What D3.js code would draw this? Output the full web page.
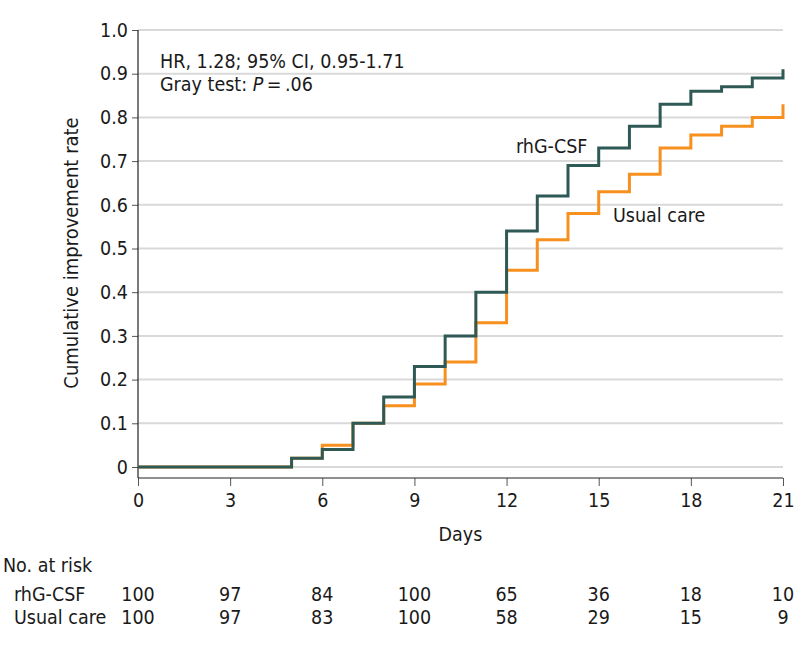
<!DOCTYPE html>
<html>
<head>
<meta charset="utf-8">
<script src="https://cdn.jsdelivr.net/npm/d3@7"></script>
<style>
  body { margin: 0; background: #fff; }
  svg text { font-family: "DejaVu Sans Condensed", "DejaVu Sans", sans-serif; fill: #1a1a1a; }
</style>
</head>
<body>
<div id="main"></div>
<script>
// data
const days = [0, 5, 6, 7, 8, 9, 10, 11, 12, 13, 14, 15, 16, 17, 18, 19, 20, 21];
const rhgCsf = [0, 0.02, 0.04, 0.10, 0.16, 0.23, 0.30, 0.40, 0.54, 0.62, 0.69, 0.73, 0.78, 0.83, 0.86, 0.87, 0.89, 0.91];
const usualCare = [0, 0.02, 0.05, 0.10, 0.14, 0.19, 0.24, 0.33, 0.45, 0.52, 0.58, 0.63, 0.67, 0.73, 0.76, 0.78, 0.80, 0.83];
const xTicks = [0, 3, 6, 9, 12, 15, 18, 21];
const yTicks = [0, 0.1, 0.2, 0.3, 0.4, 0.5, 0.6, 0.7, 0.8, 0.9, 1.0];
const riskRhg = [100, 97, 84, 100, 65, 36, 18, 10];
const riskUsual = [100, 97, 83, 100, 58, 29, 15, 9];

const chartWidth = 798, chartHeight = 647;
const plotLeft = 138, plotRight = 783, plotTop = 30, zeroY = 467, axisY = 478;
const teal = '#2e5955', orange = '#f7901e';
const fs = 19.5;

const svg = d3.select('#main').append('svg')
  .attr('width', chartWidth)
  .attr('height', chartHeight);

const x = d3.scaleLinear().domain([0, 21]).range([plotLeft, plotRight]);
const y = d3.scaleLinear().domain([0, 1]).range([zeroY, plotTop]);

// gridlines
svg.append('g')
  .selectAll('line')
  .data(yTicks)
  .join('line')
    .attr('x1', plotLeft).attr('x2', plotRight)
    .attr('y1', d => y(d)).attr('y2', d => y(d))
    .attr('stroke', '#d9d9d9')
    .attr('stroke-width', 2);

// y axis
const yAxis = svg.append('g')
  .attr('transform', `translate(${plotLeft},0)`)
  .call(d3.axisLeft(y).tickValues(yTicks).tickSize(6).tickPadding(4)
    .tickFormat(d => d === 0 ? '0' : d3.format('.1f')(d)));
yAxis.select('.domain').remove();
yAxis.selectAll('line').attr('stroke', '#555');
yAxis.selectAll('text').attr('font-size', fs).attr('fill', '#1a1a1a');
svg.append('line')
  .attr('x1', plotLeft).attr('x2', plotLeft)
  .attr('y1', plotTop).attr('y2', axisY)
  .attr('stroke', '#222').attr('stroke-width', 1.2);

// x axis
const xAxis = svg.append('g')
  .attr('transform', `translate(0,${axisY})`)
  .call(d3.axisBottom(x).tickValues(xTicks).tickSize(8).tickPadding(7));
xAxis.select('.domain').remove();
xAxis.selectAll('line').attr('stroke', '#555');
xAxis.selectAll('text').attr('font-size', fs).attr('fill', '#1a1a1a');
svg.append('line')
  .attr('x1', plotLeft).attr('x2', plotRight)
  .attr('y1', axisY).attr('y2', axisY)
  .attr('stroke', '#222').attr('stroke-width', 1.2);

// step curves
const line = d3.line()
  .x(d => x(d[0]))
  .y(d => y(d[1]))
  .curve(d3.curveStepAfter);

svg.append('path')
  .datum(days.map((d, i) => [d, usualCare[i]]))
  .attr('d', line)
  .attr('fill', 'none')
  .attr('stroke', orange)
  .attr('stroke-width', 3);

svg.append('path')
  .datum(days.map((d, i) => [d, rhgCsf[i]]))
  .attr('d', line)
  .attr('fill', 'none')
  .attr('stroke', teal)
  .attr('stroke-width', 3);

// labels
svg.append('text')
  .attr('transform', 'translate(78,253) rotate(-90)')
  .attr('text-anchor', 'middle')
  .attr('font-size', 20)
  .text('Cumulative improvement rate');

svg.append('text')
  .attr('x', (plotLeft + plotRight) / 2).attr('y', 541)
  .attr('text-anchor', 'middle')
  .attr('font-size', fs)
  .text('Days');

svg.append('text')
  .attr('x', 160).attr('y', 68)
  .attr('font-size', fs)
  .text('HR, 1.28; 95% CI, 0.95-1.71');

const gray = svg.append('text')
  .attr('x', 160).attr('y', 91)
  .attr('font-size', fs);
gray.append('tspan').text('Gray test: ');
gray.append('tspan').attr('font-style', 'italic').text('P');
gray.append('tspan').text('\u2009=\u2009.06');

svg.append('text')
  .attr('x', 516).attr('y', 153)
  .attr('font-size', fs)
  .text('rhG-CSF');

svg.append('text')
  .attr('x', 613).attr('y', 222)
  .attr('font-size', fs)
  .text('Usual care');

// number at risk
svg.append('text')
  .attr('x', 3).attr('y', 572)
  .attr('font-size', fs)
  .text('No. at risk');

const rows = [
  { name: 'rhG-CSF', values: riskRhg, yPos: 601 },
  { name: 'Usual care', values: riskUsual, yPos: 624 }
];

rows.forEach(r => {
  svg.append('text')
    .attr('x', 14).attr('y', r.yPos)
    .attr('font-size', fs)
    .text(r.name);
  svg.append('g')
    .selectAll('text')
    .data(r.values)
    .join('text')
      .attr('x', (d, i) => x(xTicks[i]))
      .attr('y', r.yPos)
      .attr('text-anchor', 'middle')
      .attr('font-size', fs)
      .text(d => d);
});
</script>
</body>
</html>
